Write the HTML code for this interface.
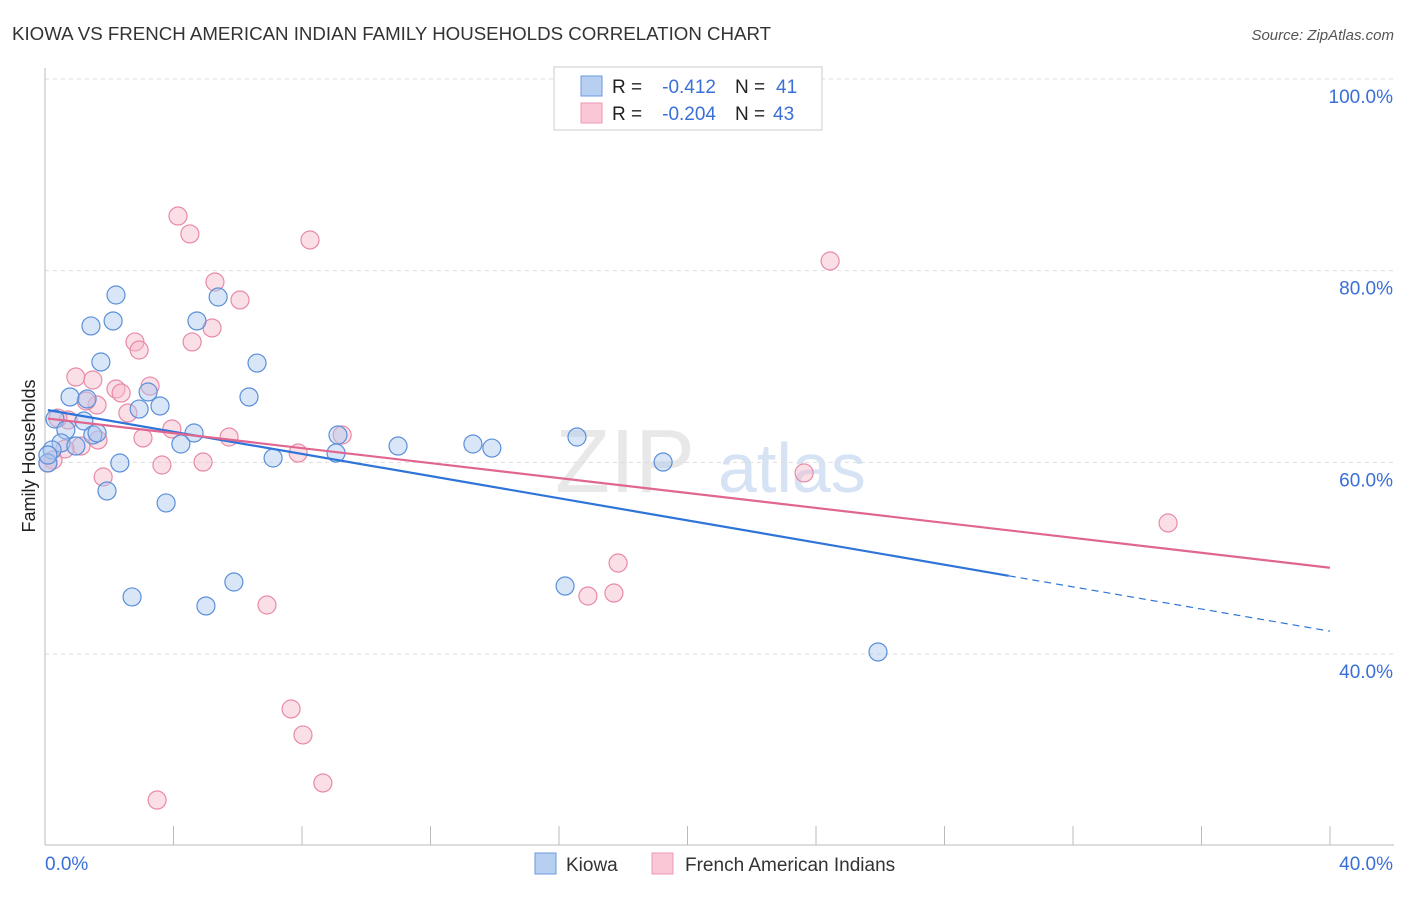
<!DOCTYPE html>
<html><head><meta charset="utf-8"><style>
body{margin:0;background:#fff;font-family:"Liberation Sans",sans-serif;}
svg text{font-family:"Liberation Sans",sans-serif;}
</style></head><body>
<svg id="c" width="1406" height="892" xmlns="http://www.w3.org/2000/svg">
<text x="12" y="40" font-size="18.7" fill="#333">KIOWA VS FRENCH AMERICAN INDIAN FAMILY HOUSEHOLDS CORRELATION CHART</text>
<text x="1394" y="40" font-size="15" fill="#555" font-style="italic" text-anchor="end">Source: ZipAtlas.com</text>
<text x="35" y="456" font-size="18" fill="#222" text-anchor="middle" transform="rotate(-90 35 456)">Family Households</text>
<text x="555" y="492" font-size="90" fill="#e8e8e8" font-family="Liberation Serif">ZIP</text>
<text x="718" y="492" font-size="70" fill="#d5e3f4">atlas</text>
<g id="grid"></g><g id="axes"></g><g id="pts"></g><g id="trend"></g>
<g>
<rect x="554" y="67" width="268" height="63" fill="#fff" stroke="#ccc"/>
<rect x="581" y="76" width="21" height="20" fill="#b7d0f2" stroke="#6b9ae0"/>
<rect x="581" y="103" width="21" height="20" fill="#f9c7d5" stroke="#ec9ab3"/>
<g font-size="19">
<text x="612" y="93" fill="#222">R =</text>
<text x="716" y="93" fill="#3a6fd8" text-anchor="end">-0.412</text>
<text x="735" y="93" fill="#222">N =</text>
<text x="776" y="93" fill="#3a6fd8">41</text>
</g>
<g font-size="19">
<text x="612" y="120" fill="#222">R =</text>
<text x="716" y="120" fill="#3a6fd8" text-anchor="end">-0.204</text>
<text x="735" y="120" fill="#222">N =</text>
<text x="773" y="120" fill="#3a6fd8">43</text>
</g>
</g>
<g>
<rect x="535" y="853" width="21" height="21" fill="#b7d0f2" stroke="#6b9ae0"/>
<text x="566" y="871" font-size="19" fill="#333">Kiowa</text>
<rect x="652" y="853" width="21" height="21" fill="#f9c7d5" stroke="#ec9ab3"/>
<text x="685" y="871" font-size="19" fill="#333">French American Indians</text>
</g>
</svg>
<script>
const yTicks=[40,60,80,100];
const xTickLabels=["0.0%","40.0%"];
const kiowaX=[2.21,2.12,1.43,4.73,5.39,1.74,6.60,0.78,1.31,2.93,3.58,3.21,6.35,0.31,1.21,0.65,1.49,1.62,0.50,0.96,0.22,4.64,4.23,2.33,1.93,3.77,7.10,9.12,9.06,10.99,13.32,13.91,16.56,19.24,2.71,5.01,5.88,16.19,25.93,0.09,0.09];
const kiowaY=[77.46,74.75,74.23,74.75,77.25,70.47,70.36,66.82,66.61,65.56,65.88,67.34,66.82,64.52,64.31,63.37,62.85,63.06,62.02,61.70,61.29,63.06,61.91,59.93,57.01,55.76,60.45,62.85,60.97,61.70,61.91,61.49,62.64,60.03,45.95,45.01,47.51,47.09,40.21,59.93,60.76];
const frenchX=[4.14,4.51,8.25,5.29,6.07,5.20,4.58,2.80,2.93,24.44,0.96,1.49,3.27,2.21,2.37,1.62,1.28,2.58,3.05,3.95,5.73,9.25,7.88,4.92,3.64,1.81,0.72,0.40,1.12,0.62,0.25,0.09,23.63,34.96,17.84,16.90,17.71,6.91,7.66,8.03,8.65,3.49,1.65];
const frenchY=[85.70,83.83,83.20,78.82,76.94,74.02,72.56,72.56,71.72,81.01,68.90,68.59,67.96,67.65,67.23,65.98,66.40,65.15,62.54,63.48,62.64,62.85,60.97,60.03,59.72,58.47,64.42,64.62,61.70,61.39,60.24,59.93,58.89,53.67,49.49,46.05,46.36,45.11,34.26,31.55,26.54,24.76,62.33];
const kiowaTrend=[65.5,-0.578];
const frenchTrend=[64.6,-0.39];
const NS="http://www.w3.org/2000/svg";
const X0=45,X1=1330,Y100=79,PXY=9.583;
function sx(v){return X0+(X1-X0)*v/40;}
function sy(v){return Y100+(100-v)*PXY;}
function mk(t,a,p){const e=document.createElementNS(NS,t);for(const k in a)e.setAttribute(k,a[k]);p.appendChild(e);return e;}
const grid=document.getElementById('grid'),axes=document.getElementById('axes'),pts=document.getElementById('pts'),tr=document.getElementById('trend');
yTicks.forEach(v=>{
 const l=mk('line',{x1:X0,x2:1394,y1:sy(v),y2:sy(v),stroke:'#ddd','stroke-dasharray':'4 4'},grid);
 
 
 const t=mk('text',{x:1393,y:sy(v)+24,'font-size':19,fill:'#3a6fd8','text-anchor':'end'},grid);
 t.textContent=v.toFixed(1)+'%';
 
 
});
const ax=mk('line',{x1:X0,x2:X0,y1:68,y2:845,stroke:'#bbb'},axes);


const bx=mk('line',{x1:X0,x2:1394,y1:845,y2:845,stroke:'#bbb'},axes);


for(let i=0;i<=10;i++){
 const tk=mk('line',{x1:sx(i*4),x2:sx(i*4),y1:826,y2:845,stroke:'#bbb'},axes);
 
 
}
xTickLabels.forEach((s,i)=>{
 const t=mk('text',{x:i?1393:45,y:870,'font-size':19,fill:'#3a6fd8','text-anchor':i?'end':'start'},axes);
 t.textContent=s;
 
 
});
function dots(xs,ys,fill,stroke,name){
 xs.forEach((x,i)=>{
  const c=mk('circle',{cx:sx(x),cy:sy(ys[i]),r:9,fill:fill,'fill-opacity':0.45,stroke:stroke,'stroke-width':1.2},pts);
  
  
 });
}
dots(frenchX,frenchY,'#f6b8ca','#e88aa6','point-french');
dots(kiowaX,kiowaY,'#a9c8f0','#5b8fd9','point-kiowa');
const bl=mk('line',{x1:sx(0.09),y1:sy(kiowaTrend[0]+kiowaTrend[1]*0.09),x2:sx(30),y2:sy(kiowaTrend[0]+kiowaTrend[1]*30),stroke:'#2f74d8','stroke-width':2.2},tr);


const bd=mk('line',{x1:sx(30),y1:sy(kiowaTrend[0]+kiowaTrend[1]*30),x2:sx(40),y2:sy(kiowaTrend[0]+kiowaTrend[1]*40),stroke:'#2f74d8','stroke-width':1.2,'stroke-dasharray':'7 5'},tr);


const pl=mk('line',{x1:sx(0.09),y1:sy(frenchTrend[0]+frenchTrend[1]*0.09),x2:sx(40),y2:sy(frenchTrend[0]+frenchTrend[1]*40),stroke:'#e06690','stroke-width':2.2},tr);


</script>
</body></html>
